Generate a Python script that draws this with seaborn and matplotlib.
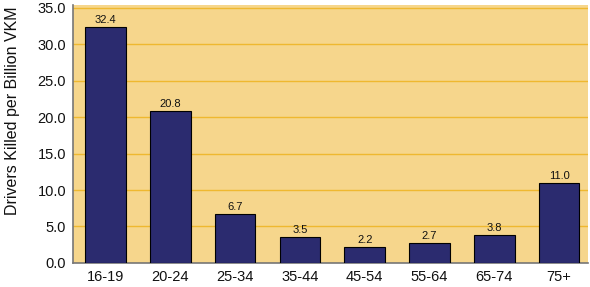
import matplotlib
matplotlib.use("Agg")
import matplotlib.pyplot as plt
import seaborn as sns
import pandas as pd

categories = ["16-19", "20-24", "25-34", "35-44", "45-54", "55-64", "65-74", "75+"]
values = [32.4, 20.8, 6.7, 3.5, 2.2, 2.7, 3.8, 11.0]
yticks = [0, 5, 10, 15, 20, 25, 30, 35]

sns.set_theme(style="white")
plt.rcParams['font.family'] = ['Liberation Sans', 'DejaVu Sans']

df = pd.DataFrame({"age": categories, "rate": values})

fig = plt.figure(figsize=(5.9, 2.87), dpi=100)
ax = fig.add_axes([0.124, 0.084, 0.873, 0.899])
ax.set_facecolor("#F6D68C")

sns.barplot(data=df, x="age", y="rate", ax=ax, color="#2B2B6F",
            width=0.625, edgecolor="black", linewidth=0.8, saturation=1, zorder=3)

ax.set_ylim(0, 35.4)
ax.set_xlim(-0.5, 7.45)
ax.set_yticks(yticks)
ax.set_yticklabels([f"{v:.1f}" for v in yticks])
ax.yaxis.grid(True, color="#EFB830", linewidth=1.0, zorder=0)
ax.set_axisbelow(True)
ax.tick_params(axis="both", labelsize=10.5, length=0, colors="#111111")
ax.tick_params(axis="x", pad=5)
ax.tick_params(axis="y", pad=5)
ax.set_xlabel("")
ax.set_ylabel("Drivers Killed per Billion VKM", fontsize=11.5, color="#111111")
ax.yaxis.set_label_coords(-0.103, 0.59)

for s in ["top", "right"]:
    ax.spines[s].set_visible(False)
for s in ["left", "bottom"]:
    ax.spines[s].set_color("#777777")
    ax.spines[s].set_linewidth(1.2)

for cont in ax.containers:
    ax.bar_label(cont, labels=[f"{v:.1f}" for v in values], fontsize=8, padding=1.5, color="#111111")

fig.savefig("out.png", dpi=100, facecolor="white")
